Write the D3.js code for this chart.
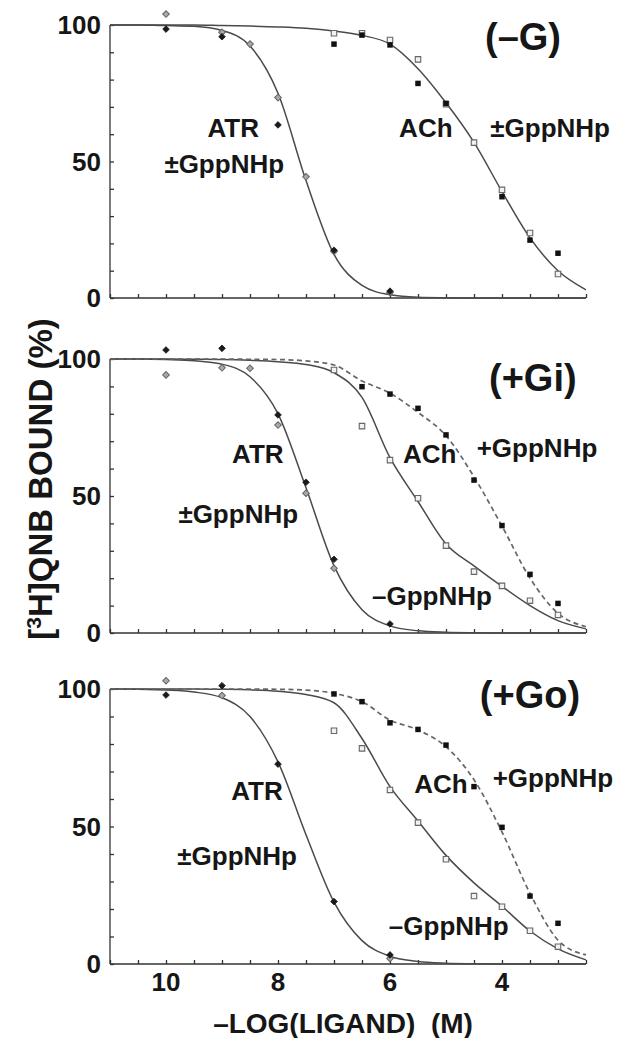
<!DOCTYPE html>
<html>
<head>
<meta charset="utf-8">
<script src="https://cdn.jsdelivr.net/npm/d3@7"></script>
<style>
  html, body { margin: 0; padding: 0; background: #fff; }
  svg { display: block; }
  text { font-family: "Liberation Sans", Arial, Helvetica, sans-serif; font-weight: bold; fill: #161616; }
</style>
</head>
<body>
<div id="chart"></div>
<script>
// sample grid for the fitted curves (every 0.5 log unit)
const curveX = [11, 10.5, 10, 9.5, 9, 8.5, 8, 7.5, 7, 6.5, 6, 5.5, 5, 4.5, 4, 3.5, 3, 2.5];
const xTickLabels = [10, 8, 6, 4];
const yTickLabels = [0, 50, 100];

// panel 1 (-G)
const atrOpenG_x = [10, 9, 8.5, 8, 7.5, 7, 6];
const atrOpenG_y = [104, 97.3, 93, 73.4, 44.4, 17, 2];
const atrFillG_x = [10, 9, 8, 7, 6];
const atrFillG_y = [98.5, 95.7, 63.4, 17.5, 2.5];
const achOpenG_x = [7, 6.5, 6, 5.5, 5, 4.5, 4, 3.5, 3];
const achOpenG_y = [97, 97, 94.5, 87.4, 71, 56.9, 39.6, 23.8, 8.8];
const achFillG_x = [7, 6.5, 6, 5.5, 5, 4, 3.5, 3];
const achFillG_y = [93, 96.3, 92.7, 78.6, 71.3, 37.1, 21.2, 16.4];
const atrCurveG = [100, 100, 99.8, 99.5, 98, 92.3, 75, 43, 16, 4.6, 1.2, 0.3, 0.1, 0, 0, 0, 0, 0];
const achCurveG = [100, 100, 100, 100, 99.8, 99.6, 99.3, 98.8, 97.8, 96.2, 93, 84, 71.5, 57, 39, 22, 10, 3];

// panel 2 (+Gi)
const atrOpenGi_x = [10, 9, 8.5, 8, 7.5, 7];
const atrOpenGi_y = [94.2, 96.8, 96.6, 75.9, 51, 23.6];
const atrFillGi_x = [10, 9, 8, 7.5, 7, 6];
const atrFillGi_y = [103.3, 103.9, 79.6, 55, 26.9, 3.3];
const achOpenGi_x = [7, 6.5, 6, 5.5, 5, 4.5, 4, 3.5, 3];
const achOpenGi_y = [96, 75.5, 63.1, 49.2, 31.9, 22.4, 17.2, 11.8, 6.6];
const achFillGi_x = [6.5, 6, 5.5, 5, 4.5, 4, 3.5, 3];
const achFillGi_y = [89.9, 87.2, 82, 72.3, 55.8, 39.2, 21.4, 10.8];
const atrCurveGi = [100, 100, 99.8, 99.4, 98.1, 93.5, 80, 53, 24.5, 8.5, 2.6, 0.8, 0.3, 0.1, 0, 0, 0, 0];
const achMinusCurveGi = [100, 100, 100, 99.9, 99.8, 99.5, 99, 98, 95, 86, 64, 48, 32.5, 24.5, 17, 10, 4.5, 1.5];
const achPlusCurveGi = [100, 100, 100, 100, 100, 99.9, 99.8, 99.3, 97.8, 92, 87.5, 80.5, 72, 57, 39, 20, 7.2, 2.3];

// panel 3 (+Go)
const atrOpenGo_x = [10, 9, 6];
const atrOpenGo_y = [103, 97.6, 2];
const atrFillGo_x = [10, 9, 8, 7, 6];
const atrFillGo_y = [97.8, 101.2, 72.7, 22.7, 3.3];
const achOpenGo_x = [7, 6.5, 6, 5.5, 5, 4.5, 4, 3.5, 3];
const achOpenGo_y = [84.8, 78.4, 63.3, 51.4, 38.1, 24.7, 20.8, 12.1, 6.3];
const achFillGo_x = [7, 6.5, 6, 5.5, 5, 4.5, 4, 3.5, 3];
const achFillGo_y = [98.2, 95.4, 87.7, 85.3, 79.6, 64.5, 49.7, 24.7, 14.8];
const atrCurveGo = [100, 99.9, 99.6, 98.9, 96.8, 90, 73.5, 47, 22.5, 8.5, 2.8, 0.9, 0.3, 0.1, 0, 0, 0, 0];
const achMinusCurveGo = [100, 100, 100, 100, 99.9, 99.7, 99.2, 98, 95, 82, 64.5, 52, 39.5, 29.5, 21, 12, 5.5, 1.5];
const achPlusCurveGo = [100, 100, 100, 100, 100, 100, 99.9, 99.6, 98.4, 95.4, 88.7, 85.1, 79, 67, 48, 25.7, 8.7, 3.3];

const width = 626, height = 1038;
const zip = (xs, ys) => xs.map((x, i) => ({ x, y: ys[i] }));

const panels = [
  {
    top: 25, bottom: 298,
    curves: [{ y: atrCurveG }, { y: achCurveG }],
    open: [zip(atrOpenG_x, atrOpenG_y), zip(achOpenG_x, achOpenG_y)],
    filled: [zip(atrFillG_x, atrFillG_y), zip(achFillG_x, achFillG_y)],
    labels: [
      { t: "(\u2013G)", x: 3.625, y: 90.8, size: 38 },
      { t: "ATR", x: 8.8, y: 59, size: 26 },
      { t: "\u00B1GppNHp", x: 8.96, y: 45.8, size: 26 },
      { t: "ACh", x: 5.36, y: 59, size: 26 },
      { t: "\u00B1GppNHp", x: 3.14, y: 59, size: 26 }
    ]
  },
  {
    top: 359, bottom: 633,
    curves: [{ y: atrCurveGi }, { y: achMinusCurveGi }, { y: achPlusCurveGi, dashed: true }],
    open: [zip(atrOpenGi_x, atrOpenGi_y), zip(achOpenGi_x, achOpenGi_y)],
    filled: [zip(atrFillGi_x, atrFillGi_y), zip(achFillGi_x, achFillGi_y)],
    labels: [
      { t: "(+Gi)", x: 3.45, y: 88.4, size: 38 },
      { t: "ATR", x: 8.36, y: 62, size: 26 },
      { t: "\u00B1GppNHp", x: 8.71, y: 40.1, size: 26 },
      { t: "ACh", x: 5.29, y: 62, size: 26 },
      { t: "+GppNHp", x: 3.375, y: 64.2, size: 26 },
      { t: "\u2013GppNHp", x: 5.25, y: 10.2, size: 26 }
    ]
  },
  {
    top: 689, bottom: 964,
    curves: [{ y: atrCurveGo }, { y: achMinusCurveGo }, { y: achPlusCurveGo, dashed: true }],
    open: [zip(atrOpenGo_x, atrOpenGo_y), zip(achOpenGo_x, achOpenGo_y)],
    filled: [zip(atrFillGo_x, atrFillGo_y), zip(achFillGo_x, achFillGo_y)],
    labels: [
      { t: "(+Go)", x: 3.5, y: 93, size: 38 },
      { t: "ATR", x: 8.375, y: 59.6, size: 26 },
      { t: "\u00B1GppNHp", x: 8.73, y: 36, size: 26 },
      { t: "ACh", x: 5.09, y: 62.2, size: 26 },
      { t: "+GppNHp", x: 3.09, y: 64.4, size: 26 },
      { t: "\u2013GppNHp", x: 4.95, y: 10.5, size: 26 }
    ],
    xLabels: true
  }
];

const svg = d3.select("#chart").append("svg")
  .attr("width", width)
  .attr("height", height);

const xScale = d3.scaleLinear().domain([11, 2.5]).range([110, 586]);
const xMinor = d3.range(0, 18).map(i => 11 - i * 0.5);
const yMinor = d3.range(0, 11).map(i => i * 10);

panels.forEach((p, pi) => {
  const yScale = d3.scaleLinear().domain([0, 100]).range([p.bottom, p.top]);
  const g = svg.append("g").attr("class", `panel panel-${pi}`);

  // axes: left + bottom, ticks pointing inward
  g.append("g")
    .attr("transform", `translate(${xScale(11)},0)`)
    .call(d3.axisRight(yScale).tickValues(yMinor).tickSize(4).tickFormat(""))
    .call(a => a.select(".domain").attr("d", `M0,${yScale(0)}V${yScale(100)}`))
    .call(a => a.selectAll("line, path").attr("stroke", "#333").attr("stroke-width", 1.3));

  g.append("g")
    .attr("transform", `translate(0,${yScale(0)})`)
    .call(d3.axisTop(xScale).tickValues(xMinor).tickSize(4).tickFormat(""))
    .call(a => a.select(".domain").attr("d", `M${xScale(11)},0H${xScale(2.5)}`))
    .call(a => a.selectAll("line, path").attr("stroke", "#333").attr("stroke-width", 1.3));

  g.selectAll(".ylab")
    .data(yTickLabels)
    .enter().append("text")
    .attr("class", "ylab")
    .attr("x", 101)
    .attr("y", d => yScale(d))
    .attr("dy", "0.36em")
    .attr("text-anchor", "end")
    .style("font-size", "26px")
    .text(d => d);

  if (p.xLabels) {
    g.selectAll(".xlab")
      .data(xTickLabels)
      .enter().append("text")
      .attr("class", "xlab")
      .attr("x", d => xScale(d))
      .attr("y", yScale(0) + 27)
      .attr("text-anchor", "middle")
      .style("font-size", "26px")
      .text(d => d);
  }

  const line = d3.line()
    .x(d => xScale(d.x))
    .y(d => yScale(d.y))
    .curve(d3.curveMonotoneX);

  p.curves.forEach(c => {
    g.append("path")
      .datum(zip(curveX, c.y))
      .attr("d", line)
      .attr("fill", "none")
      .attr("stroke", c.dashed ? "#666" : "#4a4a4a")
      .attr("stroke-width", c.dashed ? 1.7 : 1.5)
      .attr("stroke-dasharray", c.dashed ? "5,3.5" : null);
  });

  // ATR = diamonds, ACh = squares
  const diamond = d3.symbol().type(d3.symbolSquare).size(22);
  const square = d3.symbol().type(d3.symbolSquare).size(30);

  g.selectAll(".atr-open")
    .data(p.open[0])
    .enter().append("path")
    .attr("class", "atr-open")
    .attr("d", diamond)
    .attr("transform", d => `translate(${xScale(d.x)},${yScale(d.y)}) rotate(45)`)
    .attr("fill", "#a9a9a9")
    .attr("stroke", "#666")
    .attr("stroke-width", 1);

  g.selectAll(".atr-fill")
    .data(p.filled[0])
    .enter().append("path")
    .attr("class", "atr-fill")
    .attr("d", diamond)
    .attr("transform", d => `translate(${xScale(d.x)},${yScale(d.y)}) rotate(45)`)
    .attr("fill", "#1a1a1a")
    .attr("stroke", "#1a1a1a")
    .attr("stroke-width", 0.8);

  g.selectAll(".ach-open")
    .data(p.open[1])
    .enter().append("path")
    .attr("class", "ach-open")
    .attr("d", square)
    .attr("transform", d => `translate(${xScale(d.x)},${yScale(d.y)})`)
    .attr("fill", "#f2f2f2")
    .attr("stroke", "#666")
    .attr("stroke-width", 1.1);

  g.selectAll(".ach-fill")
    .data(p.filled[1])
    .enter().append("path")
    .attr("class", "ach-fill")
    .attr("d", square)
    .attr("transform", d => `translate(${xScale(d.x)},${yScale(d.y)})`)
    .attr("fill", "#111");

  g.selectAll(".note")
    .data(p.labels)
    .enter().append("text")
    .attr("class", "note")
    .attr("x", d => xScale(d.x))
    .attr("y", d => yScale(d.y))
    .attr("text-anchor", "middle")
    .style("font-size", d => `${d.size}px`)
    .text(d => d.t);
});

// axis titles
const yTitle = svg.append("text")
  .attr("transform", "translate(52,479) rotate(-90)")
  .attr("text-anchor", "middle")
  .style("font-size", "33px");
yTitle.append("tspan").text("[");
yTitle.append("tspan").attr("baseline-shift", "super").style("font-size", "21px").text("3");
yTitle.append("tspan").text("H]QNB BOUND (%)");

svg.append("text")
  .attr("x", 343)
  .attr("y", 1033)
  .attr("text-anchor", "middle")
  .style("font-size", "28px")
  .text("\u2013LOG(LIGAND)\u00A0\u00A0(M)");
</script>
</body>
</html>
